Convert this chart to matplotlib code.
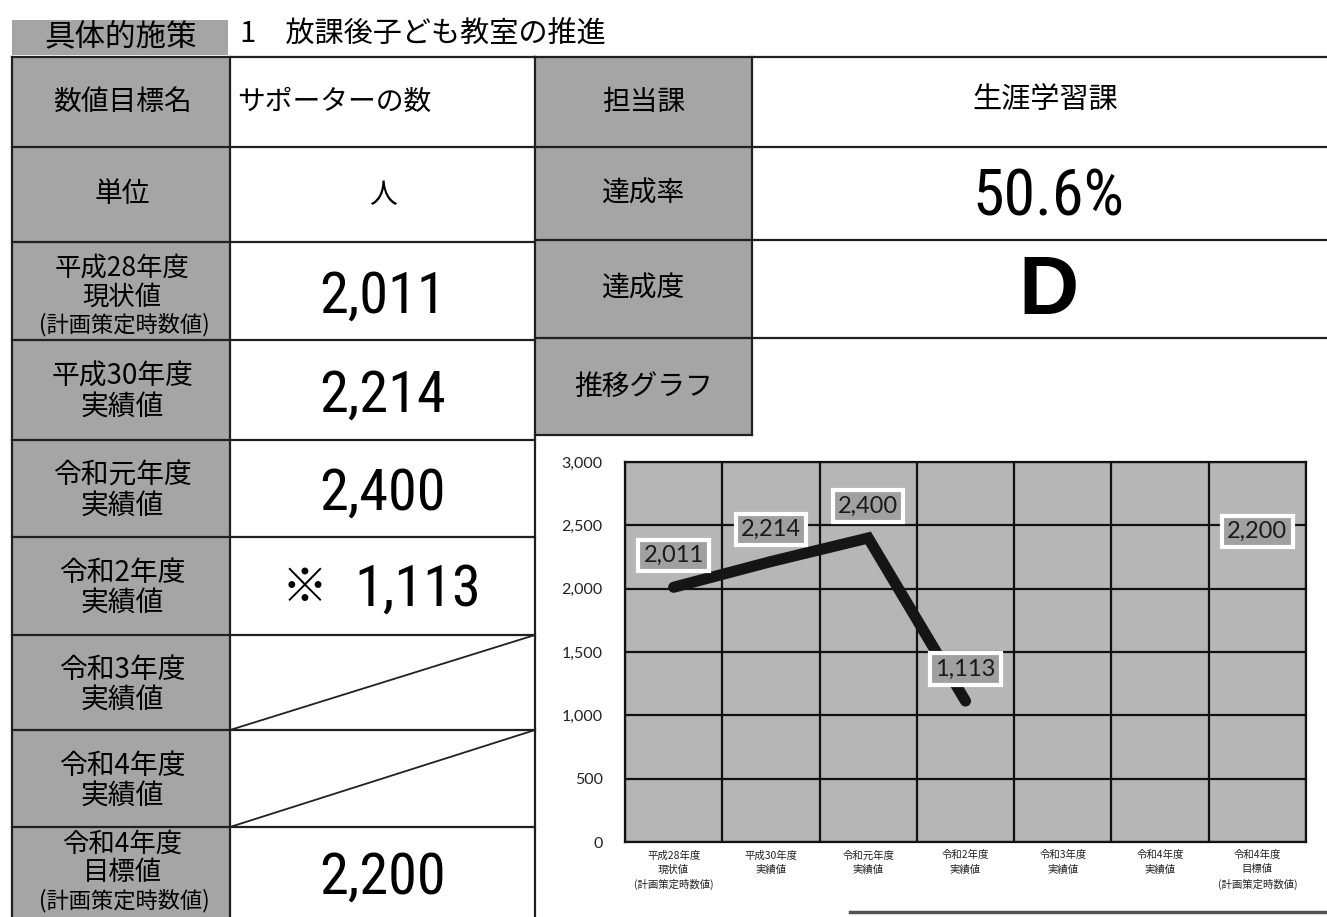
import matplotlib
matplotlib.use("Agg")
import matplotlib.pyplot as plt
from matplotlib.patches import Rectangle
from matplotlib import font_manager
from matplotlib.font_manager import FontProperties
import numpy as np

# --- data -------------------------------------------------------------
measure_title = "1　放課後子ども教室の推進"
target_name = "サポーターの数"
unit = "人"
department = "生涯学習課"
achievement_rate = "50.6%"
achievement_grade = "D"

row_labels = [
    ["数値目標名"],
    ["単位"],
    ["平成28年度", "現状値", "(計画策定時数値)"],
    ["平成30年度", "実績値"],
    ["令和元年度", "実績値"],
    ["令和2年度", "実績値"],
    ["令和3年度", "実績値"],
    ["令和4年度", "実績値"],
    ["令和4年度", "目標値", "(計画策定時数値)"],
]
row_values = [None, None, "2,011", "2,214", "2,400", "1,113", None, None, "2,200"]
row_marks = [None, None, None, None, None, "※", None, None, None]

chart_categories = [
    "平成28年度\n現状値\n(計画策定時数値)",
    "平成30年度\n実績値",
    "令和元年度\n実績値",
    "令和2年度\n実績値",
    "令和3年度\n実績値",
    "令和4年度\n実績値",
    "令和4年度\n目標値\n(計画策定時数値)",
]
chart_values = [2011, 2214, 2400, 1113, np.nan, np.nan, 2200]
y_ticks = [0, 500, 1000, 1500, 2000, 2500, 3000]

# --- fonts ------------------------------------------------------------
installed = {f.name for f in font_manager.fontManager.ttflist}
CJK = ["Noto Sans CJK JP", "DejaVu Sans"]
CHART_NUM = ["Lato", "DejaVu Sans"] if "Lato" in installed else ["DejaVu Sans"]


def find_narrow_font():
    # look for a condensed sans face for the big numbers
    prefs = ["Liberation Sans Narrow", "Roboto Condensed", "Open Sans Condensed",
             "Noto Sans", "Open Sans", "DejaVu Sans", "Roboto"]
    cands = []
    for f in font_manager.fontManager.ttflist:
        if f.style != "normal" or f.weight not in (400, "normal", "regular"):
            continue
        narrowish = f.stretch in ("condensed", "semi-condensed", "extra-condensed") \
            or "Narrow" in f.name or "Condensed" in f.name
        if narrowish:
            cands.append(f)
    for p in prefs:
        for f in cands:
            if f.name == p:
                return FontProperties(fname=f.fname)
    if cands:
        return FontProperties(fname=cands[0].fname)
    return None


narrow_fp = find_narrow_font()
if narrow_fp is not None:
    NUM_KW = dict(fontproperties=narrow_fp)
    num_size, rate_size = 42, 46
else:
    NUM_KW = dict(family=["Liberation Sans", "DejaVu Sans"])
    num_size, rate_size = 38, 42

GRAY = "#a5a5a5"
LINE = "#202020"

fig = plt.figure(figsize=(13.27, 9.17), dpi=100)
bg = fig.add_axes([0, 0, 1, 1])
bg.set_xlim(0, 1327)
bg.set_ylim(917, 0)
bg.axis("off")

# table geometry (pixels)
x_left, x_lab, x_mid, x_rlab, x_right = 12, 230, 535, 752, 1327
row_edges = [57, 147, 242, 340, 440, 537, 635, 730, 827, 917]
right_edges = [57, 147, 240, 338, 435]

# header
bg.add_patch(Rectangle((x_left, 20), 216, 35, color=GRAY, lw=0))
bg.text(121, 37, "具体的施策", family=CJK, fontsize=22, ha="center", va="center")
bg.text(240, 35, measure_title, family=CJK, fontsize=21, ha="left", va="center")

# left label column
for i in range(len(row_labels)):
    y0, y1 = row_edges[i], row_edges[i + 1]
    bg.add_patch(Rectangle((x_left, y0), x_lab - x_left, y1 - y0, color=GRAY, lw=0))
    lines = row_labels[i]
    yc = (y0 + y1) / 2
    if len(lines) == 1:
        bg.text(122, yc, lines[0], family=CJK, fontsize=20, ha="center", va="center")
    elif len(lines) == 2:
        bg.text(122, yc - 13, lines[0], family=CJK, fontsize=20, ha="center", va="center")
        bg.text(122, yc + 18, lines[1], family=CJK, fontsize=20, ha="center", va="center")
    else:
        # last row runs into the page edge, keep its text inside
        shift = -5 if y1 >= 917 else 0
        bg.text(122, yc - 23 + shift, lines[0], family=CJK, fontsize=19, ha="center", va="center")
        bg.text(122, yc + 6 + shift, lines[1], family=CJK, fontsize=19, ha="center", va="center")
        bg.text(124, yc + 34 + shift, lines[2], family=CJK, fontsize=16, ha="center", va="center")
    if row_values[i]:
        if row_marks[i]:
            bg.text(305, yc + 3, row_marks[i], family=CJK, fontsize=33, ha="center", va="center")
            bg.text(418, yc + 4, row_values[i], fontsize=num_size, ha="center", va="center", **NUM_KW)
        else:
            bg.text(383, yc + 6, row_values[i], fontsize=num_size, ha="center", va="center", **NUM_KW)

bg.text(237, 102, target_name, family=CJK, fontsize=20, ha="left", va="center")
bg.text(383, 195, unit, family=CJK, fontsize=20, ha="center", va="center")

# right label column
right_labels = ["担当課", "達成率", "達成度", "推移グラフ"]
for i, lab in enumerate(right_labels):
    y0, y1 = right_edges[i], right_edges[i + 1]
    bg.add_patch(Rectangle((x_mid, y0), x_rlab - x_mid, y1 - y0, color=GRAY, lw=0))
    bg.text(644, (y0 + y1) / 2, lab, family=CJK, fontsize=20, ha="center", va="center")

bg.text(1045, 100, department, family=CJK, fontsize=21, ha="center", va="center")
bg.text(1048, 197, achievement_rate, fontsize=rate_size, ha="center", va="center", **NUM_KW)
bg.text(1048, 292, achievement_grade, family=["Liberation Sans", "DejaVu Sans"],
        fontsize=60, fontweight="bold", ha="center", va="center")

# grid lines of the table
for y in row_edges[:-1]:
    bg.plot([x_left, x_mid], [y, y], color=LINE, lw=1.6)
for y in right_edges[:-1]:
    bg.plot([x_mid, x_right], [y, y], color=LINE, lw=1.6)
bg.plot([x_mid, x_rlab], [435, 435], color=LINE, lw=1.6)
for x in (x_left, x_lab, x_mid):
    bg.plot([x, x], [57, 917], color=LINE, lw=1.6)
bg.plot([x_rlab, x_rlab], [57, 435], color=LINE, lw=1.6)
# crossed-out cells
bg.plot([x_lab, x_mid], [730, 635], color=LINE, lw=1.3)
bg.plot([x_lab, x_mid], [827, 730], color=LINE, lw=1.3)
# chart frame bottom edge
bg.plot([850, x_right], [912, 912], color="#555555", lw=2.5)

# --- chart ------------------------------------------------------------
ax = fig.add_axes([625 / 1327, 1 - 842 / 917, 681 / 1327, 380 / 917])
ax.set_facecolor("#b6b6b6")
x = np.arange(len(chart_categories))
ax.plot(x, chart_values, color="#151515", lw=8, solid_capstyle="round",
        solid_joinstyle="miter", zorder=3)

for xi, v in zip(x, chart_values):
    if np.isnan(v):
        continue
    ax.annotate(f"{int(v):,}", (xi, v), xytext=(0, 23), textcoords="offset points",
                ha="center", va="center", family=CHART_NUM, fontsize=17, color="#1a1a1a",
                bbox=dict(boxstyle="square,pad=0.22", fc="#a0a0a0", ec="white", lw=3),
                zorder=4)

ax.set_xlim(-0.5, len(chart_categories) - 0.5)
ax.set_ylim(0, 3000)
ax.set_yticks(y_ticks)
ax.set_yticklabels([f"{t:,}" for t in y_ticks], family=CHART_NUM, fontsize=11.5, color="#222222")
ax.set_xticks(x)
ax.set_xticklabels(chart_categories, family=CJK, fontsize=7.5, linespacing=1.5, color="#222222")
ax.set_xticks(np.arange(len(chart_categories) + 1) - 0.5, minor=True)
ax.tick_params(axis="both", which="both", length=0)
ax.tick_params(axis="y", pad=16)
ax.tick_params(axis="x", pad=6)
ax.grid(True, which="minor", axis="x", color="#111111", lw=1.6)
ax.grid(True, which="major", axis="y", color="#111111", lw=1.6)
ax.set_axisbelow(True)
for s in ax.spines.values():
    s.set_color("#111111")
    s.set_linewidth(1.6)

fig.savefig("out.png", dpi=100)
